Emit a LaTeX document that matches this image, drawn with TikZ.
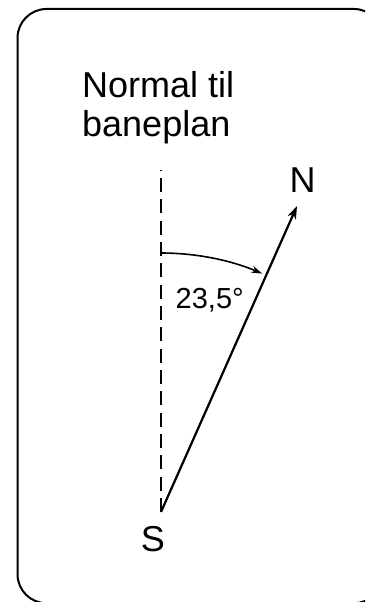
\documentclass[tikz,border=0pt]{standalone}
\usepackage{fontspec}
\setmainfont{Liberation Sans}
\usetikzlibrary{arrows.meta}
\begin{document}
\begin{tikzpicture}[x=1pt,y=-1pt,
  frame/.style={line width=2pt, rounded corners=29pt},
  bigtext/.style={inner sep=0pt, font=\fontsize{36}{38}\selectfont},
  smalltext/.style={inner sep=0pt, font=\fontsize{29}{31}\selectfont},
  normalline/.style={line width=1.8pt, dash pattern=on 14pt off 7.33pt},
  axis/.style={line width=2.2pt, -{Stealth[length=13pt,width=9pt]}},
  anglearc/.style={line width=1.6pt, -{Stealth[length=11pt,width=7pt]}}]
\useasboundingbox (0,0) rectangle (365,602);
\clip (0,0) rectangle (365,602);
\draw[frame] (17.5,9) rectangle (383,603.2);
\node[bigtext, anchor=base west] (t1) at (82,97) {Normal til};
\node[bigtext, anchor=base west] (t2) at (82,136) {baneplan};
\coordinate (Sp) at (161,512);
\coordinate (top) at (161,170);
\coordinate (tip) at (297,206);
\coordinate (arcs) at (161,253);
\draw[normalline] (Sp) -- (top);
\draw[axis] (Sp) -- (tip);
\draw[anglearc] (arcs) arc[start angle=-90, end angle=-67, radius=259];
\node[bigtext, anchor=base] (N) at (302.5,192) {N};
\node[bigtext, anchor=base] (S) at (153,551) {S};
\node[smalltext, anchor=base west] (ang) at (175.5,308) {23,5°};
\end{tikzpicture}
\end{document}
